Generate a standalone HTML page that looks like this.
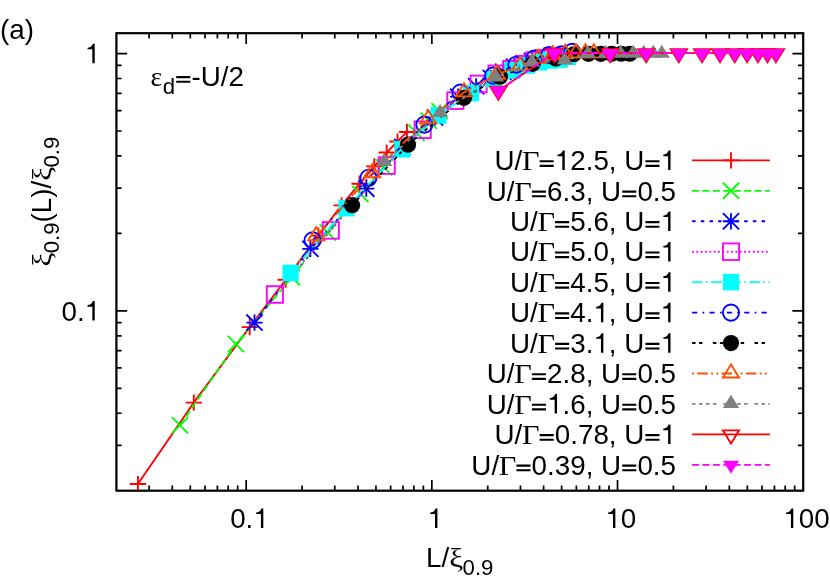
<!DOCTYPE html>
<html><head><meta charset="utf-8"><title>plot</title>
<style>
html,body{margin:0;padding:0;background:#fff;}
body{width:830px;height:588px;position:relative;overflow:hidden;}
.t{font-family:"Liberation Sans",sans-serif;font-size:27.78px;fill:#000;font-kerning:none;}
.g{font-family:"Liberation Serif",serif;fill:#000;}
</style></head><body>
<svg width="830" height="588" viewBox="0 0 830 588" style="position:absolute;left:0;top:0;will-change:transform;transform:translateZ(0)">
<rect x="0" y="0" width="830" height="588" fill="#ffffff"/>
<defs><clipPath id="cp"><rect x="116.4" y="33.2" width="686.8000000000001" height="457.5"/></clipPath></defs>
<path d="M149.10 490.70 v-5.20 M149.10 33.20 v5.20 M172.29 490.70 v-5.20 M172.29 33.20 v5.20 M190.29 490.70 v-5.20 M190.29 33.20 v5.20 M204.99 490.70 v-5.20 M204.99 33.20 v5.20 M217.42 490.70 v-5.20 M217.42 33.20 v5.20 M228.19 490.70 v-5.20 M228.19 33.20 v5.20 M237.68 490.70 v-5.20 M237.68 33.20 v5.20 M246.18 490.70 v-10.80 M246.18 33.20 v10.80 M302.07 490.70 v-5.20 M302.07 33.20 v5.20 M334.77 490.70 v-5.20 M334.77 33.20 v5.20 M357.97 490.70 v-5.20 M357.97 33.20 v5.20 M375.96 490.70 v-5.20 M375.96 33.20 v5.20 M390.66 490.70 v-5.20 M390.66 33.20 v5.20 M403.09 490.70 v-5.20 M403.09 33.20 v5.20 M413.86 490.70 v-5.20 M413.86 33.20 v5.20 M423.36 490.70 v-5.20 M423.36 33.20 v5.20 M431.85 490.70 v-10.80 M431.85 33.20 v10.80 M487.75 490.70 v-5.20 M487.75 33.20 v5.20 M520.44 490.70 v-5.20 M520.44 33.20 v5.20 M543.64 490.70 v-5.20 M543.64 33.20 v5.20 M561.63 490.70 v-5.20 M561.63 33.20 v5.20 M576.34 490.70 v-5.20 M576.34 33.20 v5.20 M588.77 490.70 v-5.20 M588.77 33.20 v5.20 M599.53 490.70 v-5.20 M599.53 33.20 v5.20 M609.03 490.70 v-5.20 M609.03 33.20 v5.20 M617.53 490.70 v-10.80 M617.53 33.20 v10.80 M673.42 490.70 v-5.20 M673.42 33.20 v5.20 M706.12 490.70 v-5.20 M706.12 33.20 v5.20 M729.31 490.70 v-5.20 M729.31 33.20 v5.20 M747.31 490.70 v-5.20 M747.31 33.20 v5.20 M762.01 490.70 v-5.20 M762.01 33.20 v5.20 M774.44 490.70 v-5.20 M774.44 33.20 v5.20 M785.21 490.70 v-5.20 M785.21 33.20 v5.20 M794.70 490.70 v-5.20 M794.70 33.20 v5.20 M116.40 445.39 h5.20 M803.20 445.39 h-5.20 M116.40 413.25 h5.20 M803.20 413.25 h-5.20 M116.40 388.31 h5.20 M803.20 388.31 h-5.20 M116.40 367.94 h5.20 M803.20 367.94 h-5.20 M116.40 350.72 h5.20 M803.20 350.72 h-5.20 M116.40 335.80 h5.20 M803.20 335.80 h-5.20 M116.40 322.64 h5.20 M803.20 322.64 h-5.20 M116.40 310.86 h10.80 M803.20 310.86 h-10.80 M116.40 233.41 h5.20 M803.20 233.41 h-5.20 M116.40 188.10 h5.20 M803.20 188.10 h-5.20 M116.40 155.96 h5.20 M803.20 155.96 h-5.20 M116.40 131.02 h5.20 M803.20 131.02 h-5.20 M116.40 110.65 h5.20 M803.20 110.65 h-5.20 M116.40 93.43 h5.20 M803.20 93.43 h-5.20 M116.40 78.51 h5.20 M803.20 78.51 h-5.20 M116.40 65.35 h5.20 M803.20 65.35 h-5.20 M116.40 53.57 h10.80 M803.20 53.57 h-10.80" stroke="#000" stroke-width="1.7" fill="none"/>
<g>
<polyline points="137.90,484.00 193.79,402.61 249.69,327.15 285.67,279.75 318.37,235.62 341.57,205.36 359.56,183.71 374.26,166.40 386.69,152.51 397.46,141.51 406.96,131.95" fill="none" stroke="#ff0000" stroke-width="1.85"/>
<path d="M137.90 475.90 V492.10 M129.80 484.00 H146.00" stroke="#ff0000" stroke-width="1.85" fill="none"/>
<path d="M193.79 394.51 V410.71 M185.69 402.61 H201.89" stroke="#ff0000" stroke-width="1.85" fill="none"/>
<path d="M249.69 319.05 V335.25 M241.59 327.15 H257.79" stroke="#ff0000" stroke-width="1.85" fill="none"/>
<path d="M285.67 271.65 V287.85 M277.57 279.75 H293.77" stroke="#ff0000" stroke-width="1.85" fill="none"/>
<path d="M318.37 227.52 V243.72 M310.27 235.62 H326.47" stroke="#ff0000" stroke-width="1.85" fill="none"/>
<path d="M341.57 197.26 V213.46 M333.47 205.36 H349.67" stroke="#ff0000" stroke-width="1.85" fill="none"/>
<path d="M359.56 175.61 V191.81 M351.46 183.71 H367.66" stroke="#ff0000" stroke-width="1.85" fill="none"/>
<path d="M374.26 158.30 V174.50 M366.16 166.40 H382.36" stroke="#ff0000" stroke-width="1.85" fill="none"/>
<path d="M386.69 144.41 V160.61 M378.59 152.51 H394.79" stroke="#ff0000" stroke-width="1.85" fill="none"/>
<path d="M397.46 133.41 V149.61 M389.36 141.51 H405.56" stroke="#ff0000" stroke-width="1.85" fill="none"/>
<path d="M406.96 123.85 V140.05 M398.86 131.95 H415.06" stroke="#ff0000" stroke-width="1.85" fill="none"/>
<polyline points="180.00,425.20 235.89,343.99 291.79,277.32 327.77,232.43 360.47,193.93 383.67,167.27 401.66,148.76 416.36,132.67 428.79,120.77 439.56,111.15" fill="none" stroke="#00ff00" stroke-width="1.85" stroke-dasharray="6.94,3.47"/>
<path d="M171.90 417.10 L188.10 433.30 M171.90 433.30 L188.10 417.10" stroke="#00ff00" stroke-width="1.85" fill="none"/>
<path d="M227.79 335.89 L243.99 352.09 M227.79 352.09 L243.99 335.89" stroke="#00ff00" stroke-width="1.85" fill="none"/>
<path d="M283.69 269.22 L299.89 285.42 M283.69 285.42 L299.89 269.22" stroke="#00ff00" stroke-width="1.85" fill="none"/>
<path d="M319.67 224.33 L335.87 240.53 M319.67 240.53 L335.87 224.33" stroke="#00ff00" stroke-width="1.85" fill="none"/>
<path d="M352.37 185.83 L368.57 202.03 M352.37 202.03 L368.57 185.83" stroke="#00ff00" stroke-width="1.85" fill="none"/>
<path d="M375.57 159.17 L391.77 175.37 M375.57 175.37 L391.77 159.17" stroke="#00ff00" stroke-width="1.85" fill="none"/>
<path d="M393.56 140.66 L409.76 156.86 M393.56 156.86 L409.76 140.66" stroke="#00ff00" stroke-width="1.85" fill="none"/>
<path d="M408.26 124.57 L424.46 140.77 M408.26 140.77 L424.46 124.57" stroke="#00ff00" stroke-width="1.85" fill="none"/>
<path d="M420.69 112.67 L436.89 128.87 M420.69 128.87 L436.89 112.67" stroke="#00ff00" stroke-width="1.85" fill="none"/>
<path d="M431.46 103.05 L447.66 119.25 M431.46 119.25 L447.66 103.05" stroke="#00ff00" stroke-width="1.85" fill="none"/>
<polyline points="254.50,322.59 310.39,248.85 366.29,188.66 402.27,147.03 434.97,117.49 458.17,96.69 476.16,86.30 490.86,78.05 503.29,71.84 514.06,66.65 523.56,63.49 532.05,60.99" fill="none" stroke="#0000ff" stroke-width="1.85" stroke-dasharray="3.47,5.21"/>
<path d="M254.50 314.49 V330.69 M246.40 322.59 H262.60" stroke="#0000ff" stroke-width="1.85" fill="none"/><path d="M246.40 314.49 L262.60 330.69 M246.40 330.69 L262.60 314.49" stroke="#0000ff" stroke-width="1.85" fill="none"/>
<path d="M310.39 240.75 V256.95 M302.29 248.85 H318.49" stroke="#0000ff" stroke-width="1.85" fill="none"/><path d="M302.29 240.75 L318.49 256.95 M302.29 256.95 L318.49 240.75" stroke="#0000ff" stroke-width="1.85" fill="none"/>
<path d="M366.29 180.56 V196.76 M358.19 188.66 H374.39" stroke="#0000ff" stroke-width="1.85" fill="none"/><path d="M358.19 180.56 L374.39 196.76 M358.19 196.76 L374.39 180.56" stroke="#0000ff" stroke-width="1.85" fill="none"/>
<path d="M402.27 138.93 V155.13 M394.17 147.03 H410.37" stroke="#0000ff" stroke-width="1.85" fill="none"/><path d="M394.17 138.93 L410.37 155.13 M394.17 155.13 L410.37 138.93" stroke="#0000ff" stroke-width="1.85" fill="none"/>
<path d="M434.97 109.39 V125.59 M426.87 117.49 H443.07" stroke="#0000ff" stroke-width="1.85" fill="none"/><path d="M426.87 109.39 L443.07 125.59 M426.87 125.59 L443.07 109.39" stroke="#0000ff" stroke-width="1.85" fill="none"/>
<path d="M458.17 88.59 V104.79 M450.07 96.69 H466.27" stroke="#0000ff" stroke-width="1.85" fill="none"/><path d="M450.07 88.59 L466.27 104.79 M450.07 104.79 L466.27 88.59" stroke="#0000ff" stroke-width="1.85" fill="none"/>
<path d="M476.16 78.20 V94.40 M468.06 86.30 H484.26" stroke="#0000ff" stroke-width="1.85" fill="none"/><path d="M468.06 78.20 L484.26 94.40 M468.06 94.40 L484.26 78.20" stroke="#0000ff" stroke-width="1.85" fill="none"/>
<path d="M490.86 69.95 V86.15 M482.76 78.05 H498.96" stroke="#0000ff" stroke-width="1.85" fill="none"/><path d="M482.76 69.95 L498.96 86.15 M482.76 86.15 L498.96 69.95" stroke="#0000ff" stroke-width="1.85" fill="none"/>
<path d="M503.29 63.74 V79.94 M495.19 71.84 H511.39" stroke="#0000ff" stroke-width="1.85" fill="none"/><path d="M495.19 63.74 L511.39 79.94 M495.19 79.94 L511.39 63.74" stroke="#0000ff" stroke-width="1.85" fill="none"/>
<path d="M514.06 58.55 V74.75 M505.96 66.65 H522.16" stroke="#0000ff" stroke-width="1.85" fill="none"/><path d="M505.96 58.55 L522.16 74.75 M505.96 74.75 L522.16 58.55" stroke="#0000ff" stroke-width="1.85" fill="none"/>
<path d="M523.56 55.39 V71.59 M515.46 63.49 H531.66" stroke="#0000ff" stroke-width="1.85" fill="none"/><path d="M515.46 55.39 L531.66 71.59 M515.46 71.59 L531.66 55.39" stroke="#0000ff" stroke-width="1.85" fill="none"/>
<path d="M532.05 52.89 V69.09 M523.95 60.99 H540.15" stroke="#0000ff" stroke-width="1.85" fill="none"/><path d="M523.95 52.89 L540.15 69.09 M523.95 69.09 L540.15 52.89" stroke="#0000ff" stroke-width="1.85" fill="none"/>
<polyline points="274.90,294.50 330.79,230.39 386.69,165.58 422.67,129.73 455.37,100.64 478.57,83.94 496.56,73.83 511.26,69.26 523.69,64.11 534.46,60.61 543.96,58.35 552.45,56.33" fill="none" stroke="#ff00ff" stroke-width="1.85" stroke-dasharray="1.74,2.60"/>
<rect x="266.80" y="286.20" width="16.20" height="16.60" stroke="#ff00ff" stroke-width="1.85" fill="none"/>
<rect x="322.69" y="222.09" width="16.20" height="16.60" stroke="#ff00ff" stroke-width="1.85" fill="none"/>
<rect x="378.59" y="157.28" width="16.20" height="16.60" stroke="#ff00ff" stroke-width="1.85" fill="none"/>
<rect x="414.57" y="121.43" width="16.20" height="16.60" stroke="#ff00ff" stroke-width="1.85" fill="none"/>
<rect x="447.27" y="92.34" width="16.20" height="16.60" stroke="#ff00ff" stroke-width="1.85" fill="none"/>
<rect x="470.47" y="75.64" width="16.20" height="16.60" stroke="#ff00ff" stroke-width="1.85" fill="none"/>
<rect x="488.46" y="65.53" width="16.20" height="16.60" stroke="#ff00ff" stroke-width="1.85" fill="none"/>
<rect x="503.16" y="60.96" width="16.20" height="16.60" stroke="#ff00ff" stroke-width="1.85" fill="none"/>
<rect x="515.59" y="55.81" width="16.20" height="16.60" stroke="#ff00ff" stroke-width="1.85" fill="none"/>
<rect x="526.36" y="52.31" width="16.20" height="16.60" stroke="#ff00ff" stroke-width="1.85" fill="none"/>
<rect x="535.86" y="50.05" width="16.20" height="16.60" stroke="#ff00ff" stroke-width="1.85" fill="none"/>
<rect x="544.35" y="48.03" width="16.20" height="16.60" stroke="#ff00ff" stroke-width="1.85" fill="none"/>
<polyline points="290.60,272.98 346.49,208.13 402.39,149.21 438.37,115.37 471.07,93.06 494.27,79.27 512.26,70.46 526.96,65.38 539.39,62.23 550.16,60.39 559.66,59.51 568.15,56.75" fill="none" stroke="#00ffff" stroke-width="1.85" stroke-dasharray="10.41,3.47,1.74,3.47"/>
<rect x="282.50" y="264.68" width="16.20" height="16.60" fill="#00ffff"/>
<rect x="338.39" y="199.83" width="16.20" height="16.60" fill="#00ffff"/>
<rect x="394.29" y="140.91" width="16.20" height="16.60" fill="#00ffff"/>
<rect x="430.27" y="107.07" width="16.20" height="16.60" fill="#00ffff"/>
<rect x="462.97" y="84.76" width="16.20" height="16.60" fill="#00ffff"/>
<rect x="486.17" y="70.97" width="16.20" height="16.60" fill="#00ffff"/>
<rect x="504.16" y="62.16" width="16.20" height="16.60" fill="#00ffff"/>
<rect x="518.86" y="57.08" width="16.20" height="16.60" fill="#00ffff"/>
<rect x="531.29" y="53.93" width="16.20" height="16.60" fill="#00ffff"/>
<rect x="542.06" y="52.09" width="16.20" height="16.60" fill="#00ffff"/>
<rect x="551.56" y="51.21" width="16.20" height="16.60" fill="#00ffff"/>
<rect x="560.05" y="48.45" width="16.20" height="16.60" fill="#00ffff"/>
<polyline points="312.60,240.37 368.49,177.79 424.39,124.62 460.37,92.55 493.07,75.63 516.27,64.69 534.26,58.56 548.96,55.06 561.39,54.36 572.16,51.82" fill="none" stroke="#0000ff" stroke-width="1.85" stroke-dasharray="5.21,5.21,1.74,5.21"/>
<circle cx="312.60" cy="240.37" r="8.10" stroke="#0000ff" stroke-width="1.85" fill="none"/>
<circle cx="368.49" cy="177.79" r="8.10" stroke="#0000ff" stroke-width="1.85" fill="none"/>
<circle cx="424.39" cy="124.62" r="8.10" stroke="#0000ff" stroke-width="1.85" fill="none"/>
<circle cx="460.37" cy="92.55" r="8.10" stroke="#0000ff" stroke-width="1.85" fill="none"/>
<circle cx="493.07" cy="75.63" r="8.10" stroke="#0000ff" stroke-width="1.85" fill="none"/>
<circle cx="516.27" cy="64.69" r="8.10" stroke="#0000ff" stroke-width="1.85" fill="none"/>
<circle cx="534.26" cy="58.56" r="8.10" stroke="#0000ff" stroke-width="1.85" fill="none"/>
<circle cx="548.96" cy="55.06" r="8.10" stroke="#0000ff" stroke-width="1.85" fill="none"/>
<circle cx="561.39" cy="54.36" r="8.10" stroke="#0000ff" stroke-width="1.85" fill="none"/>
<circle cx="572.16" cy="51.82" r="8.10" stroke="#0000ff" stroke-width="1.85" fill="none"/>
<polyline points="352.10,205.17 407.99,144.70 463.89,97.89 499.87,76.76 532.57,63.86 555.77,58.42 573.76,54.25 588.46,53.89 600.89,53.82 611.66,53.79 621.16,53.76 629.65,53.73" fill="none" stroke="#000000" stroke-width="1.85" stroke-dasharray="3.47,3.47,3.47,10.41"/>
<circle cx="352.10" cy="205.17" r="8.10" fill="#000000"/>
<circle cx="407.99" cy="144.70" r="8.10" fill="#000000"/>
<circle cx="463.89" cy="97.89" r="8.10" fill="#000000"/>
<circle cx="499.87" cy="76.76" r="8.10" fill="#000000"/>
<circle cx="532.57" cy="63.86" r="8.10" fill="#000000"/>
<circle cx="555.77" cy="58.42" r="8.10" fill="#000000"/>
<circle cx="573.76" cy="54.25" r="8.10" fill="#000000"/>
<circle cx="588.46" cy="53.89" r="8.10" fill="#000000"/>
<circle cx="600.89" cy="53.82" r="8.10" fill="#000000"/>
<circle cx="611.66" cy="53.79" r="8.10" fill="#000000"/>
<circle cx="621.16" cy="53.76" r="8.10" fill="#000000"/>
<circle cx="629.65" cy="53.73" r="8.10" fill="#000000"/>
<polyline points="316.30,236.15 372.19,173.21 428.09,119.28 464.07,92.36 496.77,74.68 519.97,65.76 537.96,58.78 552.66,55.29 565.09,53.85 575.86,53.28 585.36,53.25 593.85,53.30" fill="none" stroke="#ff4d00" stroke-width="1.85" stroke-dasharray="1.74,3.47,10.41,3.47,1.74,3.47"/>
<path d="M316.30 227.07 L308.20 240.20 L324.40 240.20 Z" stroke="#ff4d00" stroke-width="1.85" fill="none"/>
<path d="M372.19 164.13 L364.09 177.26 L380.29 177.26 Z" stroke="#ff4d00" stroke-width="1.85" fill="none"/>
<path d="M428.09 110.20 L419.99 123.33 L436.19 123.33 Z" stroke="#ff4d00" stroke-width="1.85" fill="none"/>
<path d="M464.07 83.29 L455.97 96.41 L472.17 96.41 Z" stroke="#ff4d00" stroke-width="1.85" fill="none"/>
<path d="M496.77 65.61 L488.67 78.73 L504.87 78.73 Z" stroke="#ff4d00" stroke-width="1.85" fill="none"/>
<path d="M519.97 56.69 L511.87 69.81 L528.07 69.81 Z" stroke="#ff4d00" stroke-width="1.85" fill="none"/>
<path d="M537.96 49.71 L529.86 62.83 L546.06 62.83 Z" stroke="#ff4d00" stroke-width="1.85" fill="none"/>
<path d="M552.66 46.22 L544.56 59.34 L560.76 59.34 Z" stroke="#ff4d00" stroke-width="1.85" fill="none"/>
<path d="M565.09 44.78 L556.99 57.90 L573.19 57.90 Z" stroke="#ff4d00" stroke-width="1.85" fill="none"/>
<path d="M575.86 44.21 L567.76 57.33 L583.96 57.33 Z" stroke="#ff4d00" stroke-width="1.85" fill="none"/>
<path d="M585.36 44.18 L577.26 57.30 L593.46 57.30 Z" stroke="#ff4d00" stroke-width="1.85" fill="none"/>
<path d="M593.85 44.23 L585.75 57.35 L601.95 57.35 Z" stroke="#ff4d00" stroke-width="1.85" fill="none"/>
<polyline points="384.20,162.02 440.09,112.95 495.99,77.41 531.97,62.41 564.67,60.44 587.87,53.97 605.86,53.86 620.56,53.82 632.99,53.79 643.76,53.76 653.26,53.74 661.75,53.72" fill="none" stroke="#808080" stroke-width="1.85" stroke-dasharray="3.47,3.47,3.47,3.47,3.47,3.47,3.47,6.94"/>
<path d="M384.20 152.95 L376.10 166.07 L392.30 166.07 Z" fill="#808080"/>
<path d="M440.09 103.88 L431.99 117.00 L448.19 117.00 Z" fill="#808080"/>
<path d="M495.99 68.33 L487.89 81.46 L504.09 81.46 Z" fill="#808080"/>
<path d="M531.97 53.34 L523.87 66.46 L540.07 66.46 Z" fill="#808080"/>
<path d="M564.67 51.37 L556.57 64.49 L572.77 64.49 Z" fill="#808080"/>
<path d="M587.87 44.90 L579.77 58.02 L595.97 58.02 Z" fill="#808080"/>
<path d="M605.86 44.78 L597.76 57.91 L613.96 57.91 Z" fill="#808080"/>
<path d="M620.56 44.75 L612.46 57.87 L628.66 57.87 Z" fill="#808080"/>
<path d="M632.99 44.72 L624.89 57.84 L641.09 57.84 Z" fill="#808080"/>
<path d="M643.76 44.69 L635.66 57.81 L651.86 57.81 Z" fill="#808080"/>
<path d="M653.26 44.67 L645.16 57.79 L661.36 57.79 Z" fill="#808080"/>
<path d="M661.75 44.65 L653.65 57.77 L669.85 57.77 Z" fill="#808080"/>
<polyline points="498.40,90.66 554.29,52.85 610.19,53.10 646.17,53.10 678.87,53.10 702.07,53.10 720.06,53.10 734.76,53.10 747.19,53.10 757.96,53.10 767.46,53.10 775.95,53.10" fill="none" stroke="#ff0000" stroke-width="1.85"/>
<path d="M498.40 99.74 L490.30 86.61 L506.50 86.61 Z" stroke="#ff0000" stroke-width="1.85" fill="none"/>
<path d="M554.29 61.92 L546.19 48.80 L562.39 48.80 Z" stroke="#ff0000" stroke-width="1.85" fill="none"/>
<path d="M610.19 62.17 L602.09 49.05 L618.29 49.05 Z" stroke="#ff0000" stroke-width="1.85" fill="none"/>
<path d="M646.17 62.17 L638.07 49.05 L654.27 49.05 Z" stroke="#ff0000" stroke-width="1.85" fill="none"/>
<path d="M678.87 62.17 L670.77 49.05 L686.97 49.05 Z" stroke="#ff0000" stroke-width="1.85" fill="none"/>
<path d="M702.07 62.17 L693.97 49.05 L710.17 49.05 Z" stroke="#ff0000" stroke-width="1.85" fill="none"/>
<path d="M720.06 62.17 L711.96 49.05 L728.16 49.05 Z" stroke="#ff0000" stroke-width="1.85" fill="none"/>
<path d="M734.76 62.17 L726.66 49.05 L742.86 49.05 Z" stroke="#ff0000" stroke-width="1.85" fill="none"/>
<path d="M747.19 62.17 L739.09 49.05 L755.29 49.05 Z" stroke="#ff0000" stroke-width="1.85" fill="none"/>
<path d="M757.96 62.17 L749.86 49.05 L766.06 49.05 Z" stroke="#ff0000" stroke-width="1.85" fill="none"/>
<path d="M767.46 62.17 L759.36 49.05 L775.56 49.05 Z" stroke="#ff0000" stroke-width="1.85" fill="none"/>
<path d="M775.95 62.17 L767.85 49.05 L784.05 49.05 Z" stroke="#ff0000" stroke-width="1.85" fill="none"/>
<polyline points="498.40,90.66 554.29,52.85 610.19,53.10 646.17,53.10 678.87,53.10 702.07,53.10 720.06,53.10 734.76,53.10 747.19,53.10 757.96,53.10 767.46,53.10 775.95,53.10" fill="none" stroke="#ff00ff" stroke-width="1.85" stroke-dasharray="6.94,3.47"/>
<path d="M498.40 99.74 L490.30 86.61 L506.50 86.61 Z" fill="#ff00ff"/>
<path d="M554.29 61.92 L546.19 48.80 L562.39 48.80 Z" fill="#ff00ff"/>
<path d="M610.19 62.17 L602.09 49.05 L618.29 49.05 Z" fill="#ff00ff"/>
<path d="M646.17 62.17 L638.07 49.05 L654.27 49.05 Z" fill="#ff00ff"/>
<path d="M678.87 62.17 L670.77 49.05 L686.97 49.05 Z" fill="#ff00ff"/>
<path d="M702.07 62.17 L693.97 49.05 L710.17 49.05 Z" fill="#ff00ff"/>
<path d="M720.06 62.17 L711.96 49.05 L728.16 49.05 Z" fill="#ff00ff"/>
<path d="M734.76 62.17 L726.66 49.05 L742.86 49.05 Z" fill="#ff00ff"/>
<path d="M747.19 62.17 L739.09 49.05 L755.29 49.05 Z" fill="#ff00ff"/>
<path d="M757.96 62.17 L749.86 49.05 L766.06 49.05 Z" fill="#ff00ff"/>
<path d="M767.46 62.17 L759.36 49.05 L775.56 49.05 Z" fill="#ff00ff"/>
<path d="M775.95 62.17 L767.85 49.05 L784.05 49.05 Z" fill="#ff00ff"/>
</g>
<rect x="116.4" y="33.2" width="686.8000000000001" height="457.5" fill="none" stroke="#000" stroke-width="2.2"/>
<path d="M692.1 160.40 H769.9" stroke="#ff0000" stroke-width="1.85" fill="none"/>
<path d="M731.00 152.30 V168.50 M722.90 160.40 H739.10" stroke="#ff0000" stroke-width="1.85" fill="none"/>
<text class="g" style="font-size:27.78px" transform="translate(522.04,170.10) scale(1.09,1)" x="0" y="0">&#915;</text>
<path d="M39 -115 H545 V-191 H39 Z M39 -282 H545 V-358 H39 Z" transform="translate(538.54,170.10) scale(0.02778)"/>
<path d="M359 0 L273 0 L273 -501 L101 -501 L101 -560 C195 -568 255 -595 293 -703 L359 -703 Z" transform="translate(554.77,170.10) scale(0.02778)"/>
<path d="M39 -115 H545 V-191 H39 Z M39 -282 H545 V-358 H39 Z" transform="translate(644.33,170.10) scale(0.02778)"/>
<path d="M359 0 L273 0 L273 -501 L101 -501 L101 -560 C195 -568 255 -595 293 -703 L359 -703 Z" transform="translate(660.55,170.10) scale(0.02778)"/>
<text class="t" style="font-size:27.78px" x="494.51 514.57 570.21 585.66 593.38 608.83 624.27" y="170.10">U/2.5,U</text>
<path d="M692.1 190.84 H769.9" stroke="#00ff00" stroke-width="1.85" fill="none" stroke-dasharray="6.94,3.47"/>
<path d="M722.90 182.74 L739.10 198.94 M722.90 198.94 L739.10 182.74" stroke="#00ff00" stroke-width="1.85" fill="none"/>
<text class="g" style="font-size:27.78px" transform="translate(514.32,200.54) scale(1.09,1)" x="0" y="0">&#915;</text>
<path d="M39 -115 H545 V-191 H39 Z M39 -282 H545 V-358 H39 Z" transform="translate(530.82,200.54) scale(0.02778)"/>
<path d="M39 -115 H545 V-191 H39 Z M39 -282 H545 V-358 H39 Z" transform="translate(621.16,200.54) scale(0.02778)"/>
<text class="t" style="font-size:27.78px" x="486.79 506.85 547.05 562.49 570.21 585.66 601.11 637.39 652.83 660.55" y="200.54">U/6.3,U0.5</text>
<path d="M692.1 221.28 H769.9" stroke="#0000ff" stroke-width="1.85" fill="none" stroke-dasharray="3.47,5.21"/>
<path d="M731.00 213.18 V229.38 M722.90 221.28 H739.10" stroke="#0000ff" stroke-width="1.85" fill="none"/><path d="M722.90 213.18 L739.10 229.38 M722.90 229.38 L739.10 213.18" stroke="#0000ff" stroke-width="1.85" fill="none"/>
<text class="g" style="font-size:27.78px" transform="translate(537.49,230.98) scale(1.09,1)" x="0" y="0">&#915;</text>
<path d="M39 -115 H545 V-191 H39 Z M39 -282 H545 V-358 H39 Z" transform="translate(553.99,230.98) scale(0.02778)"/>
<path d="M39 -115 H545 V-191 H39 Z M39 -282 H545 V-358 H39 Z" transform="translate(644.33,230.98) scale(0.02778)"/>
<path d="M359 0 L273 0 L273 -501 L101 -501 L101 -560 C195 -568 255 -595 293 -703 L359 -703 Z" transform="translate(660.55,230.98) scale(0.02778)"/>
<text class="t" style="font-size:27.78px" x="509.96 530.02 570.21 585.66 593.38 608.83 624.27" y="230.98">U/5.6,U</text>
<path d="M692.1 251.72 H769.9" stroke="#ff00ff" stroke-width="1.85" fill="none" stroke-dasharray="1.74,2.60"/>
<rect x="722.90" y="243.42" width="16.20" height="16.60" stroke="#ff00ff" stroke-width="1.85" fill="none"/>
<text class="g" style="font-size:27.78px" transform="translate(537.49,261.42) scale(1.09,1)" x="0" y="0">&#915;</text>
<path d="M39 -115 H545 V-191 H39 Z M39 -282 H545 V-358 H39 Z" transform="translate(553.99,261.42) scale(0.02778)"/>
<path d="M39 -115 H545 V-191 H39 Z M39 -282 H545 V-358 H39 Z" transform="translate(644.33,261.42) scale(0.02778)"/>
<path d="M359 0 L273 0 L273 -501 L101 -501 L101 -560 C195 -568 255 -595 293 -703 L359 -703 Z" transform="translate(660.55,261.42) scale(0.02778)"/>
<text class="t" style="font-size:27.78px" x="509.96 530.02 570.21 585.66 593.38 608.83 624.27" y="261.42">U/5.0,U</text>
<path d="M692.1 282.16 H769.9" stroke="#00ffff" stroke-width="1.85" fill="none" stroke-dasharray="10.41,3.47,1.74,3.47"/>
<rect x="722.90" y="273.86" width="16.20" height="16.60" fill="#00ffff"/>
<text class="g" style="font-size:27.78px" transform="translate(537.49,291.86) scale(1.09,1)" x="0" y="0">&#915;</text>
<path d="M39 -115 H545 V-191 H39 Z M39 -282 H545 V-358 H39 Z" transform="translate(553.99,291.86) scale(0.02778)"/>
<path d="M39 -115 H545 V-191 H39 Z M39 -282 H545 V-358 H39 Z" transform="translate(644.33,291.86) scale(0.02778)"/>
<path d="M359 0 L273 0 L273 -501 L101 -501 L101 -560 C195 -568 255 -595 293 -703 L359 -703 Z" transform="translate(660.55,291.86) scale(0.02778)"/>
<text class="t" style="font-size:27.78px" x="509.96 530.02 570.21 585.66 593.38 608.83 624.27" y="291.86">U/4.5,U</text>
<path d="M692.1 312.60 H769.9" stroke="#0000ff" stroke-width="1.85" fill="none" stroke-dasharray="5.21,5.21,1.74,5.21"/>
<circle cx="731.00" cy="312.60" r="8.10" stroke="#0000ff" stroke-width="1.85" fill="none"/>
<text class="g" style="font-size:27.78px" transform="translate(537.49,322.30) scale(1.09,1)" x="0" y="0">&#915;</text>
<path d="M39 -115 H545 V-191 H39 Z M39 -282 H545 V-358 H39 Z" transform="translate(553.99,322.30) scale(0.02778)"/>
<path d="M359 0 L273 0 L273 -501 L101 -501 L101 -560 C195 -568 255 -595 293 -703 L359 -703 Z" transform="translate(593.38,322.30) scale(0.02778)"/>
<path d="M39 -115 H545 V-191 H39 Z M39 -282 H545 V-358 H39 Z" transform="translate(644.33,322.30) scale(0.02778)"/>
<path d="M359 0 L273 0 L273 -501 L101 -501 L101 -560 C195 -568 255 -595 293 -703 L359 -703 Z" transform="translate(660.55,322.30) scale(0.02778)"/>
<text class="t" style="font-size:27.78px" x="509.96 530.02 570.21 585.66 608.83 624.27" y="322.30">U/4.,U</text>
<path d="M692.1 343.04 H769.9" stroke="#000000" stroke-width="1.85" fill="none" stroke-dasharray="3.47,3.47,3.47,10.41"/>
<circle cx="731.00" cy="343.04" r="8.10" fill="#000000"/>
<text class="g" style="font-size:27.78px" transform="translate(537.49,352.74) scale(1.09,1)" x="0" y="0">&#915;</text>
<path d="M39 -115 H545 V-191 H39 Z M39 -282 H545 V-358 H39 Z" transform="translate(553.99,352.74) scale(0.02778)"/>
<path d="M359 0 L273 0 L273 -501 L101 -501 L101 -560 C195 -568 255 -595 293 -703 L359 -703 Z" transform="translate(593.38,352.74) scale(0.02778)"/>
<path d="M39 -115 H545 V-191 H39 Z M39 -282 H545 V-358 H39 Z" transform="translate(644.33,352.74) scale(0.02778)"/>
<path d="M359 0 L273 0 L273 -501 L101 -501 L101 -560 C195 -568 255 -595 293 -703 L359 -703 Z" transform="translate(660.55,352.74) scale(0.02778)"/>
<text class="t" style="font-size:27.78px" x="509.96 530.02 570.21 585.66 608.83 624.27" y="352.74">U/3.,U</text>
<path d="M692.1 373.48 H769.9" stroke="#ff4d00" stroke-width="1.85" fill="none" stroke-dasharray="1.74,3.47,10.41,3.47,1.74,3.47"/>
<path d="M731.00 364.41 L722.90 377.53 L739.10 377.53 Z" stroke="#ff4d00" stroke-width="1.85" fill="none"/>
<text class="g" style="font-size:27.78px" transform="translate(514.32,383.18) scale(1.09,1)" x="0" y="0">&#915;</text>
<path d="M39 -115 H545 V-191 H39 Z M39 -282 H545 V-358 H39 Z" transform="translate(530.82,383.18) scale(0.02778)"/>
<path d="M39 -115 H545 V-191 H39 Z M39 -282 H545 V-358 H39 Z" transform="translate(621.16,383.18) scale(0.02778)"/>
<text class="t" style="font-size:27.78px" x="486.79 506.85 547.05 562.49 570.21 585.66 601.11 637.39 652.83 660.55" y="383.18">U/2.8,U0.5</text>
<path d="M692.1 403.92 H769.9" stroke="#808080" stroke-width="1.85" fill="none" stroke-dasharray="3.47,3.47,3.47,3.47,3.47,3.47,3.47,6.94"/>
<path d="M731.00 394.85 L722.90 407.97 L739.10 407.97 Z" fill="#808080"/>
<text class="g" style="font-size:27.78px" transform="translate(514.32,413.62) scale(1.09,1)" x="0" y="0">&#915;</text>
<path d="M39 -115 H545 V-191 H39 Z M39 -282 H545 V-358 H39 Z" transform="translate(530.82,413.62) scale(0.02778)"/>
<path d="M359 0 L273 0 L273 -501 L101 -501 L101 -560 C195 -568 255 -595 293 -703 L359 -703 Z" transform="translate(547.05,413.62) scale(0.02778)"/>
<path d="M39 -115 H545 V-191 H39 Z M39 -282 H545 V-358 H39 Z" transform="translate(621.16,413.62) scale(0.02778)"/>
<text class="t" style="font-size:27.78px" x="486.79 506.85 562.49 570.21 585.66 601.11 637.39 652.83 660.55" y="413.62">U/.6,U0.5</text>
<path d="M692.1 434.36 H769.9" stroke="#ff0000" stroke-width="1.85" fill="none"/>
<path d="M731.00 443.43 L722.90 430.31 L739.10 430.31 Z" stroke="#ff0000" stroke-width="1.85" fill="none"/>
<text class="g" style="font-size:27.78px" transform="translate(522.04,444.06) scale(1.09,1)" x="0" y="0">&#915;</text>
<path d="M39 -115 H545 V-191 H39 Z M39 -282 H545 V-358 H39 Z" transform="translate(538.54,444.06) scale(0.02778)"/>
<path d="M39 -115 H545 V-191 H39 Z M39 -282 H545 V-358 H39 Z" transform="translate(644.33,444.06) scale(0.02778)"/>
<path d="M359 0 L273 0 L273 -501 L101 -501 L101 -560 C195 -568 255 -595 293 -703 L359 -703 Z" transform="translate(660.55,444.06) scale(0.02778)"/>
<text class="t" style="font-size:27.78px" x="494.51 514.57 554.77 570.21 577.94 593.38 608.83 624.27" y="444.06">U/0.78,U</text>
<path d="M692.1 464.80 H769.9" stroke="#ff00ff" stroke-width="1.85" fill="none" stroke-dasharray="6.94,3.47"/>
<path d="M731.00 473.87 L722.90 460.75 L739.10 460.75 Z" fill="#ff00ff"/>
<text class="g" style="font-size:27.78px" transform="translate(498.87,474.50) scale(1.09,1)" x="0" y="0">&#915;</text>
<path d="M39 -115 H545 V-191 H39 Z M39 -282 H545 V-358 H39 Z" transform="translate(515.38,474.50) scale(0.02778)"/>
<path d="M39 -115 H545 V-191 H39 Z M39 -282 H545 V-358 H39 Z" transform="translate(621.16,474.50) scale(0.02778)"/>
<text class="t" style="font-size:27.78px" x="471.34 491.40 531.60 547.05 554.77 570.21 585.66 601.11 637.39 652.83 660.55" y="474.50">U/0.39,U0.5</text>
<path d="M359 0 L273 0 L273 -501 L101 -501 L101 -560 C195 -568 255 -595 293 -703 L359 -703 Z" transform="translate(253.34,528.00) scale(0.02778)"/>
<text class="t" style="font-size:27.78px" x="230.17 245.62" y="528.00">0.</text>
<path d="M359 0 L273 0 L273 -501 L101 -501 L101 -560 C195 -568 255 -595 293 -703 L359 -703 Z" transform="translate(427.43,528.00) scale(0.02778)"/>
<path d="M359 0 L273 0 L273 -501 L101 -501 L101 -560 C195 -568 255 -595 293 -703 L359 -703 Z" transform="translate(605.38,528.00) scale(0.02778)"/>
<text class="t" style="font-size:27.78px" x="620.83" y="528.00">0</text>
<path d="M359 0 L273 0 L273 -501 L101 -501 L101 -560 C195 -568 255 -595 293 -703 L359 -703 Z" transform="translate(783.33,528.00) scale(0.02778)"/>
<text class="t" style="font-size:27.78px" x="798.78 814.22" y="528.00">00</text>
<path d="M359 0 L273 0 L273 -501 L101 -501 L101 -560 C195 -568 255 -595 293 -703 L359 -703 Z" transform="translate(84.75,320.56) scale(0.02778)"/>
<text class="t" style="font-size:27.78px" x="61.59 77.03" y="320.56">0.</text>
<path d="M359 0 L273 0 L273 -501 L101 -501 L101 -560 C195 -568 255 -595 293 -703 L359 -703 Z" transform="translate(84.75,63.27) scale(0.02778)"/>
<text class="t" style="font-size:27.78px" x="0.00 9.25 24.70" y="38.60">(a)</text>
<text class="g" style="font-size:27.78px" x="150.60" y="86.00">&#949;</text>
<text class="t" style="font-size:22.22px" x="162.80" y="93.60">d</text>
<path d="M39 -115 H545 V-191 H39 Z M39 -282 H545 V-358 H39 Z" transform="translate(175.15,86.00) scale(0.02778)"/>
<text class="t" style="font-size:27.78px" x="191.38 200.63 220.68 228.41" y="86.00">-U/2</text>
<text class="g" style="font-size:27.78px" transform="translate(449.27,566.90) scale(1.12,1)" x="0" y="0">&#958;</text>
<text class="t" style="font-size:27.78px" x="426.10 441.55" y="566.90">L/</text>
<text class="t" style="font-size:22.22px" x="462.55 474.90 481.08" y="575.20">0.9</text>
<g transform="translate(50.6,266.6) rotate(-90)">
<text class="g" style="font-size:27.78px" transform="translate(0.00,0.00) scale(1.12,1)" x="0" y="0">&#958;</text>
<text class="t" style="font-size:22.22px" x="13.28 25.64 31.81" y="8.80">0.9</text>
<text class="g" style="font-size:27.78px" transform="translate(85.84,0.00) scale(1.12,1)" x="0" y="0">&#958;</text>
<text class="t" style="font-size:27.78px" x="44.17 53.42 68.87 78.12" y="0.00">(L)/</text>
<text class="t" style="font-size:22.22px" x="99.12 111.48 117.65" y="8.80">0.9</text>
</g>
</svg>
</body></html>
